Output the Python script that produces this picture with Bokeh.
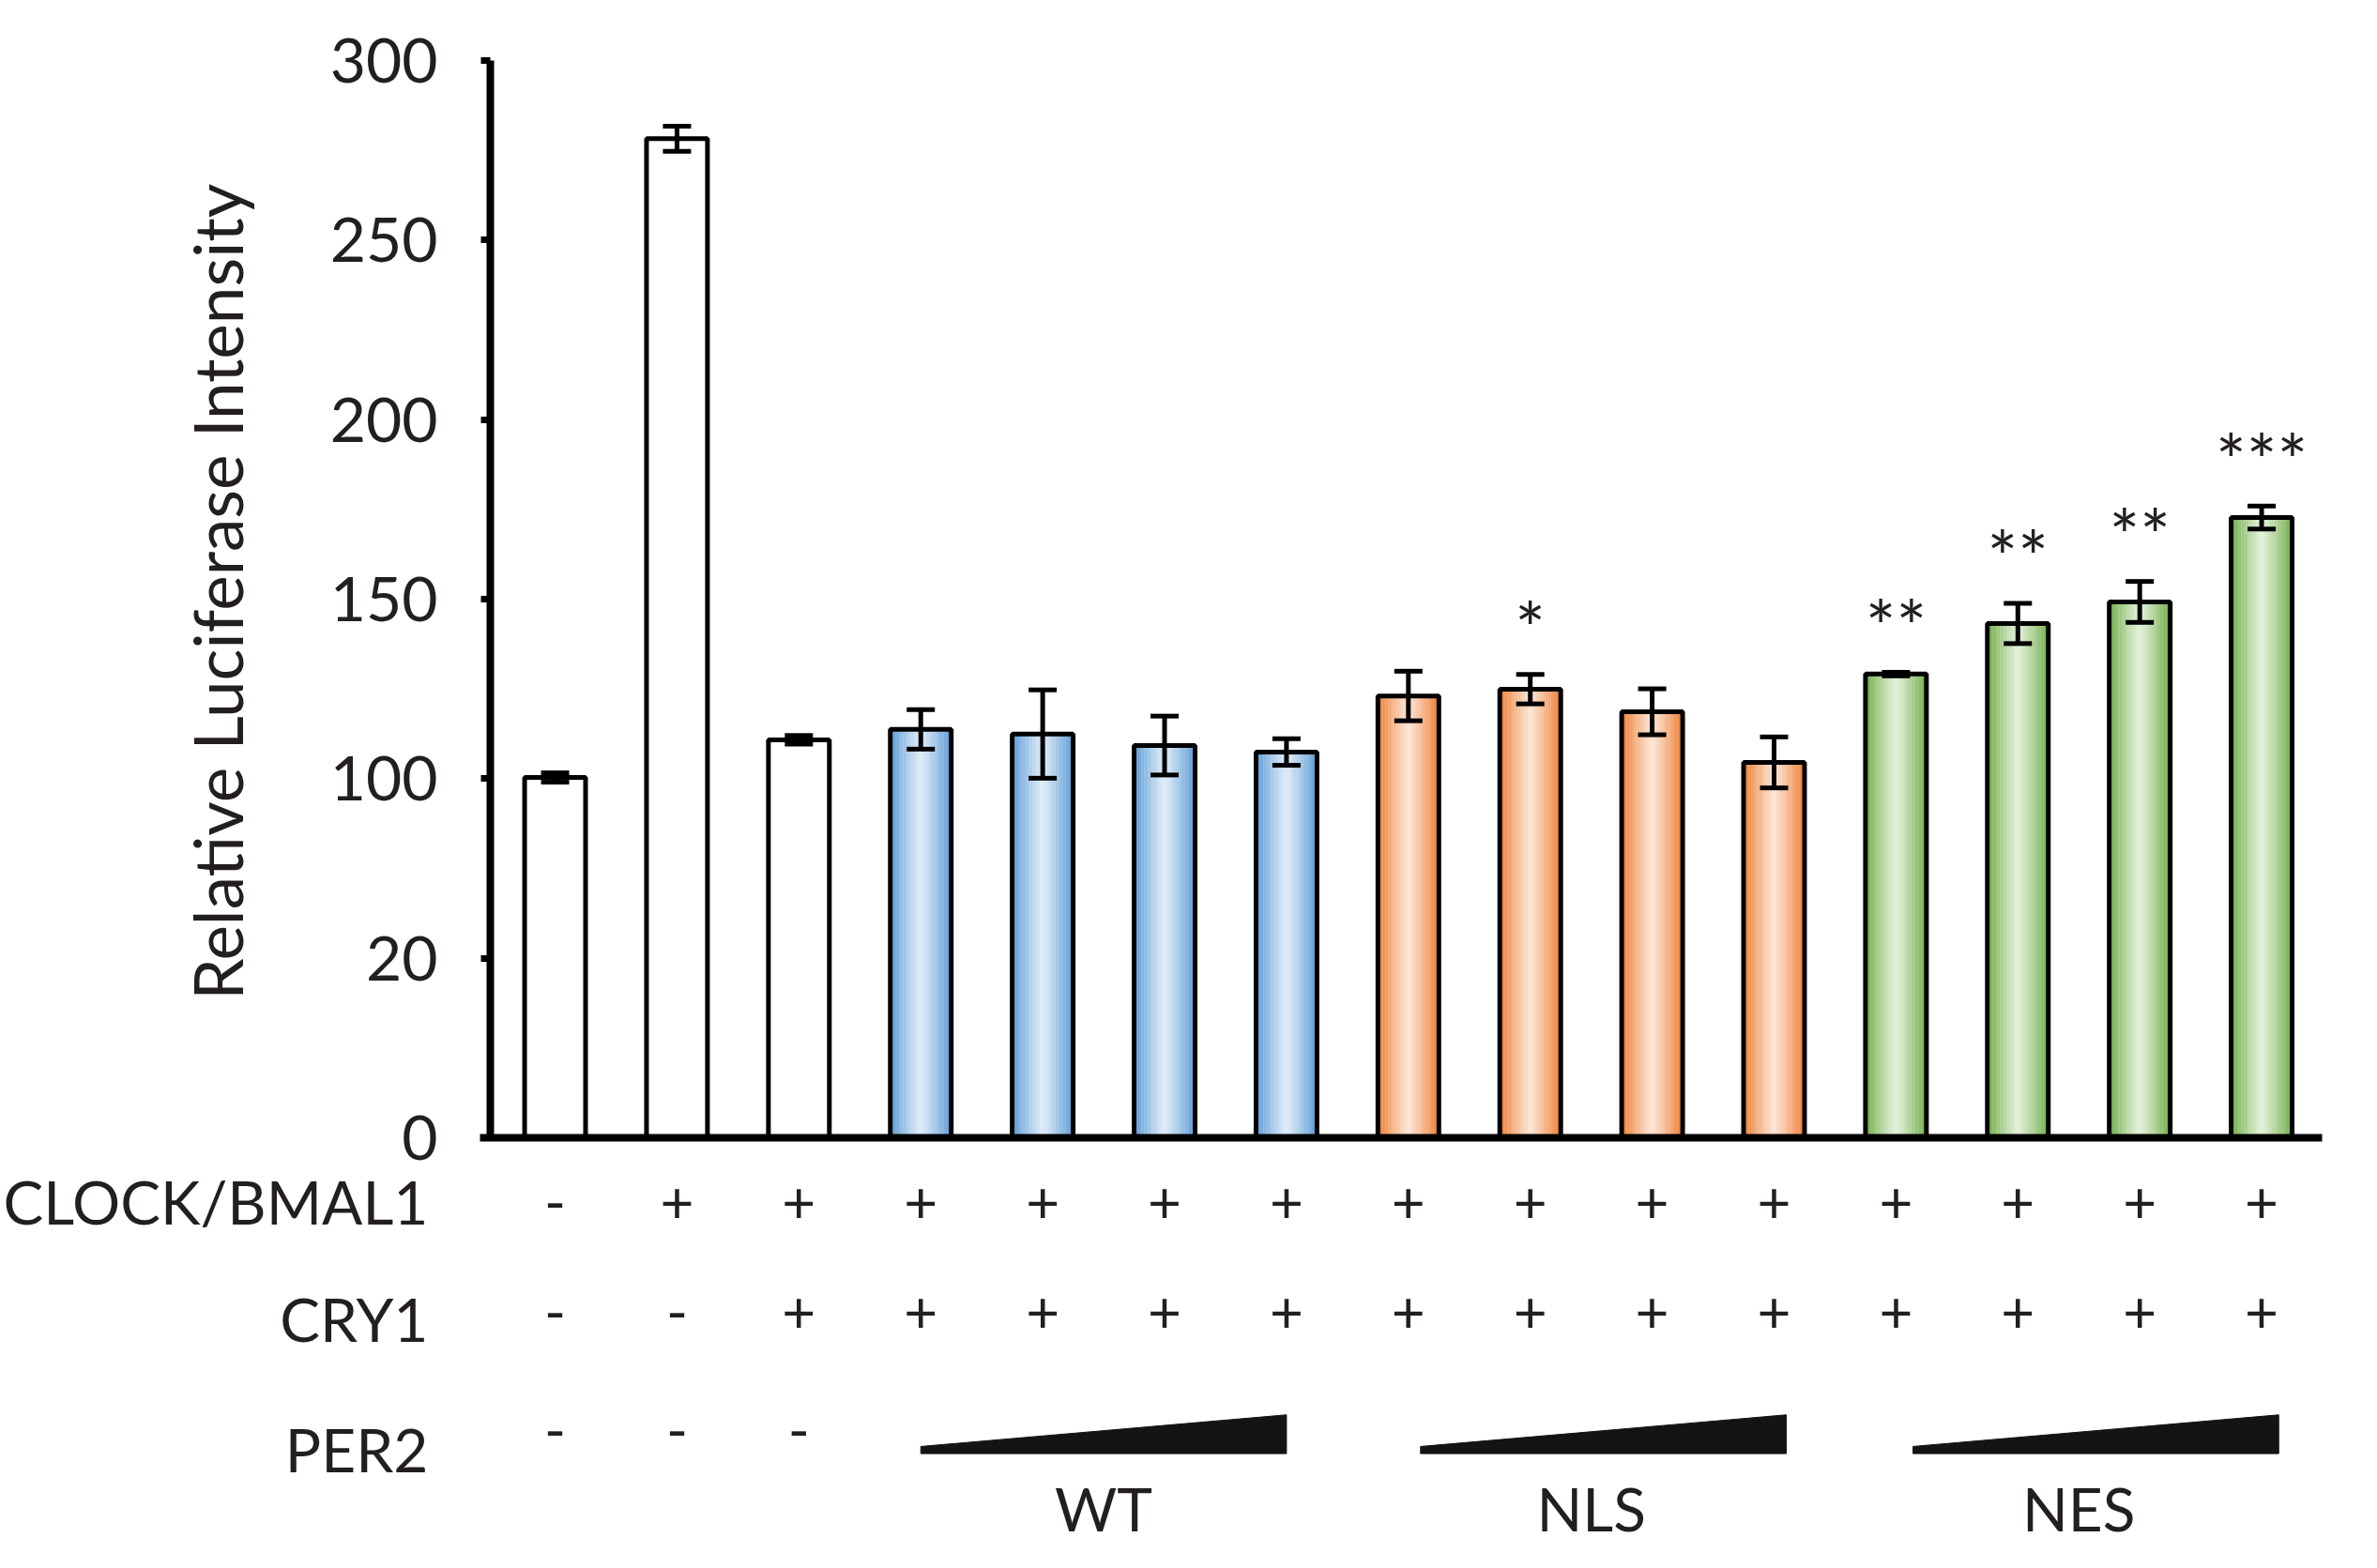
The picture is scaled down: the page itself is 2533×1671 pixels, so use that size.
import math
from bokeh.plotting import figure
from bokeh.models import Range1d, FixedTicker, Whisker, ColumnDataSource, TeeHead
from bokeh.core.properties import value
from bokeh.embed import file_html
from bokeh.resources import INLINE

# ---------------- data ----------------
bar_index = list(range(1, 16))
values = [100.3, 278.2, 110.8, 113.7, 112.4, 109.2, 107.4, 123.0, 124.9, 118.6, 104.5, 129.1, 143.2, 149.2, 172.7]
errors = [1.3, 3.5, 1.2, 5.5, 12.3, 8.2, 3.7, 6.9, 4.1, 6.4, 7.1, 0.5, 5.6, 5.7, 3.2]
groups = ["none", "none", "none", "WT", "WT", "WT", "WT", "NLS", "NLS", "NLS", "NLS", "NES", "NES", "NES", "NES"]
stars = ["", "", "", "", "", "", "", "", "*", "", "", "**", "**", "**", "***"]

clock_bmal1 = ["-", "+", "+", "+", "+", "+", "+", "+", "+", "+", "+", "+", "+", "+", "+"]
cry1 = ["-", "-", "+", "+", "+", "+", "+", "+", "+", "+", "+", "+", "+", "+", "+"]
per2 = ["-", "-", "-", "", "", "", "", "", "", "", "", "", "", "", ""]
row_labels = ["CLOCK/BMAL1", "CRY1", "PER2"]

group_names = ["WT", "NLS", "NES"]
y_ticks = [0, 50, 100, 150, 200, 250, 300]
y_tick_labels = ["0", "20", "100", "150", "200", "250", "300"]
y_axis_label = "Relative Luciferase Intensity"

# ---------------- styles / layout (table rows live below y = 0) ----------------
FONT = "Lato"
TXT = "#231f20"
edge_col = {"WT": (91, 155, 213), "NLS": (237, 125, 49), "NES": (112, 173, 71)}
center_col = {"WT": (224, 236, 248), "NLS": (253, 230, 215), "NES": (228, 241, 219)}
BAR_W = 0.5
N_STRIPS = 24
AXIS_X = 0.469          # where the value axis stands
X_END = 15.496          # where the baseline ends
mark_rows = [-17.8, -48.5, -81.2]
label_rows = [-17.8, -50.4, -86.7]
label_x = -0.04
wedge_y = [-88.0, -86.0, -77.2, -88.0]
wedge_shift = {"WT": 0.0, "NLS": 0.1, "NES": 0.14}
group_y = -103.3
ylabel_x, ylabel_y = -1.77, 152.0

p = figure(width=2517, height=1655, x_range=Range1d(-3.55, 15.827), y_range=Range1d(-115.8, 316.7),
           output_backend="svg", toolbar_location=None,
           min_border_left=0, min_border_right=0, min_border_top=0, min_border_bottom=0)
p.outline_line_color = None
p.xgrid.visible = False
p.ygrid.visible = False
p.background_fill_color = "white"

# baseline (x axis) at y = 0
p.xaxis.fixed_location = 0
p.xaxis.bounds = (AXIS_X - 0.085, X_END)
p.xaxis.ticker = FixedTicker(ticks=[])
p.xaxis.axis_line_width = 8
p.xaxis.axis_line_color = "black"
p.xaxis.major_tick_line_color = None
p.xaxis.minor_tick_line_color = None
p.xaxis.major_label_text_font_size = "0px"

# value axis
p.yaxis.fixed_location = AXIS_X
p.yaxis.bounds = (0, 300)
p.yaxis.ticker = FixedTicker(ticks=y_ticks)
p.yaxis.major_label_overrides = {t: l for t, l in zip(y_ticks, y_tick_labels)}
p.yaxis.axis_line_width = 8
p.yaxis.axis_line_color = "black"
p.yaxis.major_tick_line_width = 7
p.yaxis.major_tick_line_color = "black"
p.yaxis.major_tick_out = 10
p.yaxis.major_tick_in = 0
p.yaxis.minor_tick_line_color = None
p.yaxis.major_label_text_font = FONT
p.yaxis.major_label_text_font_size = "66px"
p.yaxis.major_label_text_color = TXT
p.yaxis.major_label_standoff = 46

p.text(x=[ylabel_x], y=[ylabel_y], text=[y_axis_label], angle=math.pi / 2,
       text_font=value(FONT), text_font_size="71px", text_color=TXT,
       text_align="center", text_baseline="middle")

# white base for all bars
p.vbar(x=bar_index, top=values, width=BAR_W, fill_color="white", line_color=None)

# gradient strips for coloured bars
sx, stop, scol = [], [], []
sw = BAR_W / N_STRIPS
for x, v, g in zip(bar_index, values, groups):
    if g == "none":
        continue
    e, c = edge_col[g], center_col[g]
    for k in range(N_STRIPS):
        t = (k + 0.5) / N_STRIPS * 2 - 1  # -1..1
        f = min(1.0, abs(t) ** 1.1)
        rgb = tuple(int(round(c[j] + (e[j] - c[j]) * f)) for j in range(3))
        sx.append(x - BAR_W / 2 + (k + 0.5) * sw)
        stop.append(v)
        scol.append("#%02x%02x%02x" % rgb)
strip_src = ColumnDataSource(dict(x=sx, top=stop, color=scol))
p.vbar(x="x", top="top", width=sw * 1.08, fill_color="color", line_color=None, source=strip_src)

# outlines
p.vbar(x=bar_index, top=values, width=BAR_W, fill_color=None, line_color="black", line_width=5)

# error bars
err_src = ColumnDataSource(dict(x=bar_index,
                                upper=[v + e for v, e in zip(values, errors)],
                                lower=[v - e for v, e in zip(values, errors)]))
wh = Whisker(base="x", upper="upper", lower="lower", source=err_src,
             line_width=5, line_color="black", level="overlay",
             upper_head=TeeHead(size=30, line_width=5, line_color="black"),
             lower_head=TeeHead(size=30, line_width=5, line_color="black"))
p.add_layout(wh)

# significance stars
st_x = [x for x, s in zip(bar_index, stars) if s]
st_y = [v + e + 13 for v, e, s in zip(values, errors, stars) if s]
st_t = [s for s in stars if s]
p.text(x=st_x, y=st_y, text=st_t, text_font=value(FONT), text_font_size="77px",
       text_color=TXT, text_align="center", text_baseline="middle")

# ---------------- condition table ----------------
p.text(x=[label_x] * 3, y=label_rows, text=row_labels, text_font=value(FONT), text_font_size="64px",
       text_color=TXT, text_align="right", text_baseline="middle")

for row, marks in zip(mark_rows, [clock_bmal1, cry1, per2]):
    mx = [x for x, m in zip(bar_index, marks) if m]
    mt = [m for m in marks if m]
    p.text(x=mx, y=[row] * len(mx), text=mt, text_font=value(FONT), text_font_size="62px",
           text_color=TXT, text_align="center", text_baseline="middle")

# PER2 dose wedges and group names
wx, wy, gx = [], [], []
for g in group_names:
    idx = [x for x, gg in zip(bar_index, groups) if gg == g]
    x0, x1 = min(idx) + wedge_shift[g], max(idx) + wedge_shift[g]
    wx.append([x0, x0, x1, x1])
    wy.append(wedge_y)
    gx.append((min(idx) + max(idx)) / 2)
p.patches(xs=wx, ys=wy, fill_color="#141414", line_color="#141414", line_width=1)
p.text(x=gx, y=[group_y] * len(gx), text=group_names, text_font=value(FONT), text_font_size="64px",
       text_color=TXT, text_align="center", text_baseline="middle")

open("out.html", "w").write(file_html(p, INLINE))
